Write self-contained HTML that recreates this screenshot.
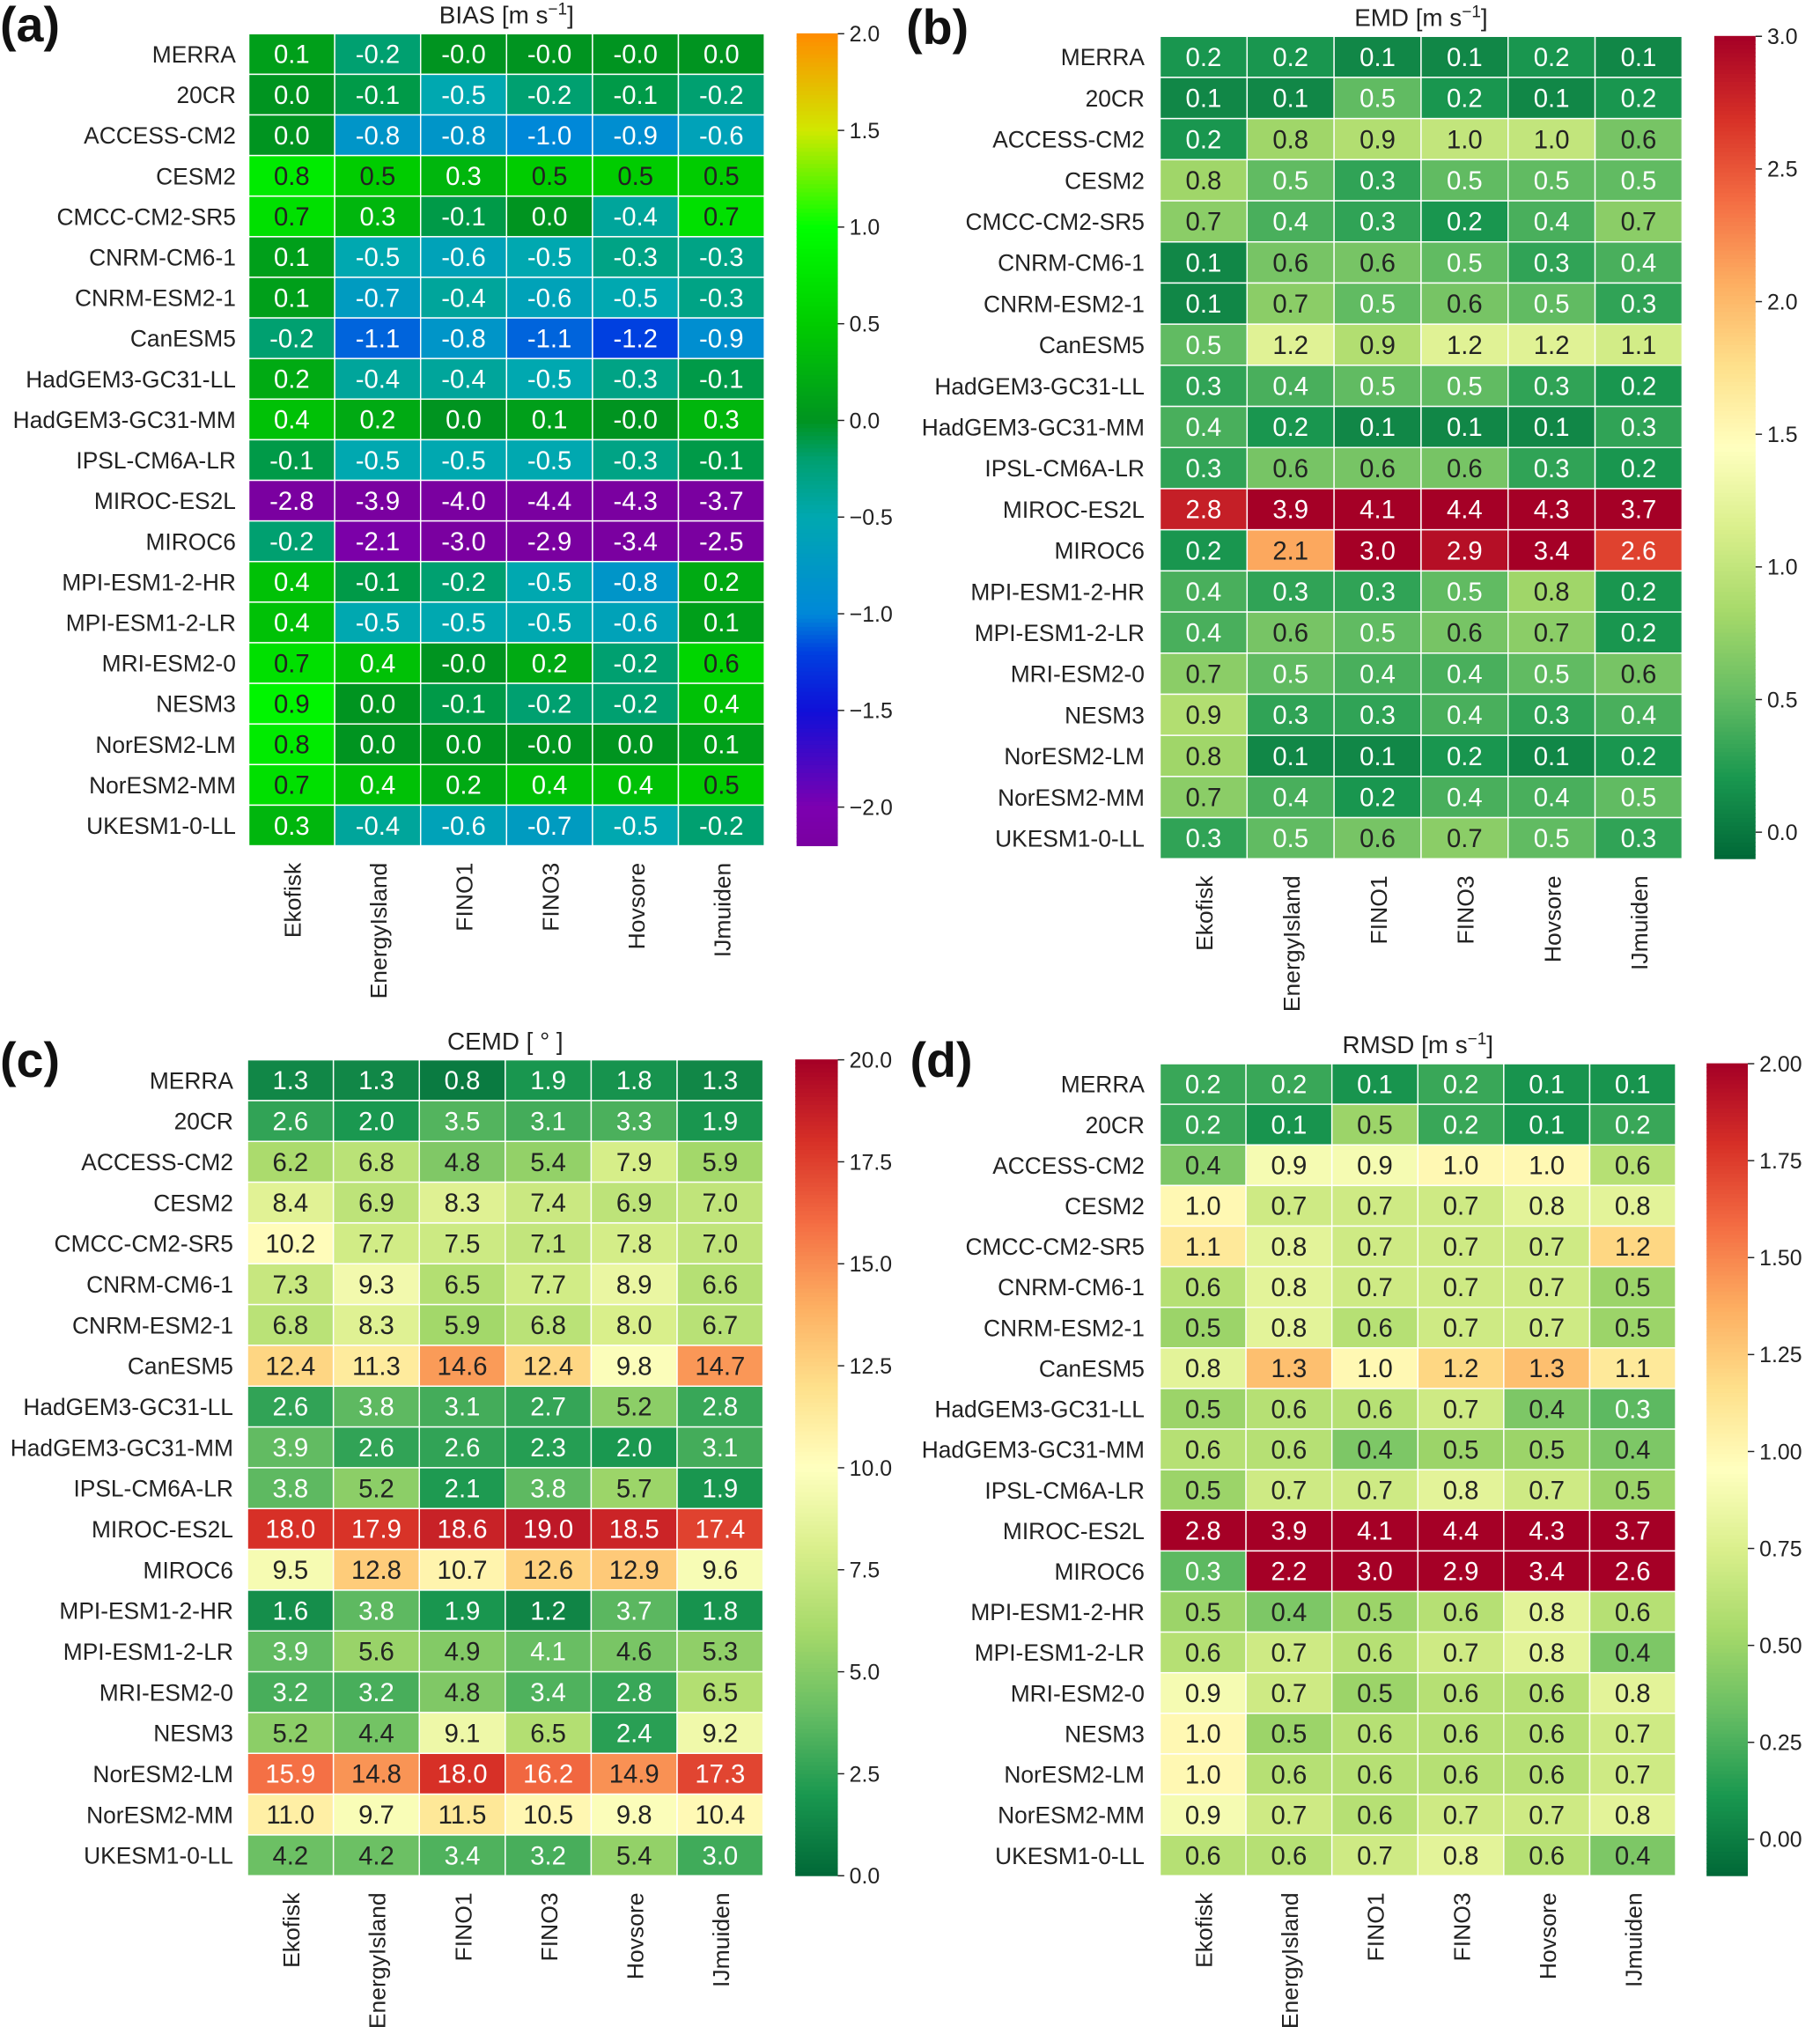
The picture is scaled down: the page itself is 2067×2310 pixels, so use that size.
<!DOCTYPE html>
<html><head><meta charset="utf-8"><style>
html,body{margin:0;padding:0;background:#fff;}
svg{display:block;font-family:"Liberation Sans","DejaVu Sans",sans-serif;}
</style></head><body>
<svg id="chart" width="2067" height="2310" viewBox="0 0 1412 1568" preserveAspectRatio="none" xmlns="http://www.w3.org/2000/svg"></svg>
<script>
const models = ["MERRA","20CR","ACCESS-CM2","CESM2","CMCC-CM2-SR5","CNRM-CM6-1","CNRM-ESM2-1","CanESM5","HadGEM3-GC31-LL","HadGEM3-GC31-MM","IPSL-CM6A-LR","MIROC-ES2L","MIROC6","MPI-ESM1-2-HR","MPI-ESM1-2-LR","MRI-ESM2-0","NESM3","NorESM2-LM","NorESM2-MM","UKESM1-0-LL"];
const sites = ["Ekofisk","EnergyIsland","FINO1","FINO3","Hovsore","IJmuiden"];
const biasValues = [
["0.1","-0.2","-0.0","-0.0","-0.0","0.0"],["0.0","-0.1","-0.5","-0.2","-0.1","-0.2"],["0.0","-0.8","-0.8","-1.0","-0.9","-0.6"],["0.8","0.5","0.3","0.5","0.5","0.5"],["0.7","0.3","-0.1","0.0","-0.4","0.7"],["0.1","-0.5","-0.6","-0.5","-0.3","-0.3"],["0.1","-0.7","-0.4","-0.6","-0.5","-0.3"],["-0.2","-1.1","-0.8","-1.1","-1.2","-0.9"],["0.2","-0.4","-0.4","-0.5","-0.3","-0.1"],["0.4","0.2","0.0","0.1","-0.0","0.3"],["-0.1","-0.5","-0.5","-0.5","-0.3","-0.1"],["-2.8","-3.9","-4.0","-4.4","-4.3","-3.7"],["-0.2","-2.1","-3.0","-2.9","-3.4","-2.5"],["0.4","-0.1","-0.2","-0.5","-0.8","0.2"],["0.4","-0.5","-0.5","-0.5","-0.6","0.1"],["0.7","0.4","-0.0","0.2","-0.2","0.6"],["0.9","0.0","-0.1","-0.2","-0.2","0.4"],["0.8","0.0","0.0","-0.0","0.0","0.1"],["0.7","0.4","0.2","0.4","0.4","0.5"],["0.3","-0.4","-0.6","-0.7","-0.5","-0.2"]];
const emdValues = [
["0.2","0.2","0.1","0.1","0.2","0.1"],["0.1","0.1","0.5","0.2","0.1","0.2"],["0.2","0.8","0.9","1.0","1.0","0.6"],["0.8","0.5","0.3","0.5","0.5","0.5"],["0.7","0.4","0.3","0.2","0.4","0.7"],["0.1","0.6","0.6","0.5","0.3","0.4"],["0.1","0.7","0.5","0.6","0.5","0.3"],["0.5","1.2","0.9","1.2","1.2","1.1"],["0.3","0.4","0.5","0.5","0.3","0.2"],["0.4","0.2","0.1","0.1","0.1","0.3"],["0.3","0.6","0.6","0.6","0.3","0.2"],["2.8","3.9","4.1","4.4","4.3","3.7"],["0.2","2.1","3.0","2.9","3.4","2.6"],["0.4","0.3","0.3","0.5","0.8","0.2"],["0.4","0.6","0.5","0.6","0.7","0.2"],["0.7","0.5","0.4","0.4","0.5","0.6"],["0.9","0.3","0.3","0.4","0.3","0.4"],["0.8","0.1","0.1","0.2","0.1","0.2"],["0.7","0.4","0.2","0.4","0.4","0.5"],["0.3","0.5","0.6","0.7","0.5","0.3"]];
const cemdValues = [
["1.3","1.3","0.8","1.9","1.8","1.3"],["2.6","2.0","3.5","3.1","3.3","1.9"],["6.2","6.8","4.8","5.4","7.9","5.9"],["8.4","6.9","8.3","7.4","6.9","7.0"],["10.2","7.7","7.5","7.1","7.8","7.0"],["7.3","9.3","6.5","7.7","8.9","6.6"],["6.8","8.3","5.9","6.8","8.0","6.7"],["12.4","11.3","14.6","12.4","9.8","14.7"],["2.6","3.8","3.1","2.7","5.2","2.8"],["3.9","2.6","2.6","2.3","2.0","3.1"],["3.8","5.2","2.1","3.8","5.7","1.9"],["18.0","17.9","18.6","19.0","18.5","17.4"],["9.5","12.8","10.7","12.6","12.9","9.6"],["1.6","3.8","1.9","1.2","3.7","1.8"],["3.9","5.6","4.9","4.1","4.6","5.3"],["3.2","3.2","4.8","3.4","2.8","6.5"],["5.2","4.4","9.1","6.5","2.4","9.2"],["15.9","14.8","18.0","16.2","14.9","17.3"],["11.0","9.7","11.5","10.5","9.8","10.4"],["4.2","4.2","3.4","3.2","5.4","3.0"]];
const rmsdValues = [
["0.2","0.2","0.1","0.2","0.1","0.1"],["0.2","0.1","0.5","0.2","0.1","0.2"],["0.4","0.9","0.9","1.0","1.0","0.6"],["1.0","0.7","0.7","0.7","0.8","0.8"],["1.1","0.8","0.7","0.7","0.7","1.2"],["0.6","0.8","0.7","0.7","0.7","0.5"],["0.5","0.8","0.6","0.7","0.7","0.5"],["0.8","1.3","1.0","1.2","1.3","1.1"],["0.5","0.6","0.6","0.7","0.4","0.3"],["0.6","0.6","0.4","0.5","0.5","0.4"],["0.5","0.7","0.7","0.8","0.7","0.5"],["2.8","3.9","4.1","4.4","4.3","3.7"],["0.3","2.2","3.0","2.9","3.4","2.6"],["0.5","0.4","0.5","0.6","0.8","0.6"],["0.6","0.7","0.6","0.7","0.8","0.4"],["0.9","0.7","0.5","0.6","0.6","0.8"],["1.0","0.5","0.6","0.6","0.6","0.7"],["1.0","0.6","0.6","0.6","0.6","0.7"],["0.9","0.7","0.6","0.7","0.7","0.8"],["0.6","0.6","0.7","0.8","0.6","0.4"]];
const biasTicks = ["2.0","1.5","1.0","0.5","0.0","\u22120.5","\u22121.0","\u22121.5","\u22122.0"];
const emdTicks = ["3.0","2.5","2.0","1.5","1.0","0.5","0.0"];
const cemdTicks = ["20.0","17.5","15.0","12.5","10.0","7.5","5.0","2.5","0.0"];
const rmsdTicks = ["2.00","1.75","1.50","1.25","1.00","0.75","0.50","0.25","0.00"];

const NS="http://www.w3.org/2000/svg";
const svg=document.getElementById('chart');
function mk(tag,attrs,parent){const e=document.createElementNS(NS,tag);for(const k in attrs)e.setAttribute(k,attrs[k]);(parent||svg).appendChild(e);return e;}
function hex(h){return [parseInt(h.slice(1,3),16),parseInt(h.slice(3,5),16),parseInt(h.slice(5,7),16)];}
function interp(stops,t){t=Math.max(0,Math.min(1,t));for(let i=1;i<stops.length;i++){if(t<=stops[i][0]){const a=stops[i-1],b=stops[i];const f=(t-a[0])/(b[0]-a[0]||1);const c1=hex(a[1]),c2=hex(b[1]);return c1.map((v,j)=>Math.round(v+(c2[j]-v)*f));}}return hex(stops[stops.length-1][1]);}
function relLum(c){const l=c.map(v=>{v/=255;return v<=0.03928?v/12.92:Math.pow((v+0.055)/1.055,2.4);});return 0.2126*l[0]+0.7152*l[1]+0.0722*l[2];}
const RdYlGn_r=[[0,"#006837"],[0.1,"#1a9850"],[0.2,"#66bd63"],[0.3,"#a6d96a"],[0.4,"#d9ef8b"],[0.5,"#ffffbf"],[0.6,"#fee08b"],[0.7,"#fdae61"],[0.8,"#f46d43"],[0.9,"#d73027"],[1,"#a50026"]];
const biasStopsV=[[-2.2,"#7a00a0"],[-2.0,"#7c00b0"],[-1.5,"#1010d8"],[-1.2,"#0040e0"],[-1.0,"#0088d8"],[-0.5,"#00a8b0"],[-0.2,"#00a070"],[0,"#009420"],[0.5,"#00cc00"],[1.0,"#00ff00"],[1.5,"#d0e800"],[2.0,"#ff8c00"]];
const biasStops=biasStopsV.map(s=>[(s[0]+2.2)/4.2,s[1]]);

const panels=[
 {id:"a",label:"(a)",lx:0,ly:32,title:"BIAS [m s",sup:"\u22121",data:biasValues,x0:193,x1:593,y0:26,y1:652,cbx:618,cbw:32,vmin:-2.2,vmax:2.0,stops:biasStops,ticks:biasTicks,tickTop:2.0,tickStep:0.5,labX:183},
 {id:"b",label:"(b)",lx:703,ly:34,title:"EMD [m s",sup:"\u22121",data:emdValues,x0:900,x1:1305,y0:28,y1:662,cbx:1330,cbw:32,vmin:-0.1,vmax:3.0,stops:RdYlGn_r,ticks:emdTicks,tickTop:3.0,tickStep:0.5,labX:888},
 {id:"c",label:"(c)",lx:0,ly:830,title:"CEMD [ \u00b0 ]",sup:"",data:cemdValues,x0:192,x1:592,y0:817,y1:1446,cbx:617,cbw:33,vmin:0,vmax:20,stops:RdYlGn_r,ticks:cemdTicks,tickTop:20,tickStep:2.5,labX:181},
 {id:"d",label:"(d)",lx:706,ly:830,title:"RMSD [m s",sup:"\u22121",data:rmsdValues,x0:900,x1:1300,y0:820,y1:1446,cbx:1324,cbw:32,vmin:-0.094,vmax:2.0,stops:RdYlGn_r,ticks:rmsdTicks,tickTop:2.0,tickStep:0.25,labX:888}
];

panels.forEach(p=>{
 const g=mk('g',{});
 
 
 const cw=(p.x1-p.x0)/sites.length, rh=(p.y1-p.y0)/models.length;
 const xs=i=>p.x0+i*cw, ys=j=>p.y0+j*rh;
 const color=v=>interp(p.stops,(v-p.vmin)/(p.vmax-p.vmin));
 const pl=mk('text',{x:p.lx,y:p.ly,'font-size':38,'font-weight':'bold',fill:'#111'},g);
 pl.textContent=p.label;
 
 
 const tt=mk('text',{x:(p.x0+p.x1)/2,y:p.y0-8,'font-size':19,'text-anchor':'middle',fill:'#222'},g);
 
 
 tt.appendChild(document.createTextNode(p.title));
 if(p.sup){const s=mk('tspan',{'baseline-shift':'super','font-size':13},tt);s.textContent=p.sup;const s2=mk('tspan',{'baseline-shift':'0'},tt);s2.textContent=']';}
 p.data.forEach((row,j)=>{
  row.forEach((str,i)=>{
   const v=parseFloat(str);const c=color(v);
   const r=mk('rect',{x:xs(i),y:ys(j),width:cw,height:rh,fill:`rgb(${c})`,stroke:'#fff','stroke-width':1},g);
   
   
   const t=mk('text',{x:xs(i)+cw/2,y:ys(j)+rh/2+7,'font-size':20,'text-anchor':'middle',fill:relLum(c)>0.408?'#222':'#fff'},g);
   t.textContent=str;
   
   
  });
  const rl=mk('text',{x:p.labX,y:ys(j)+rh/2+6.5,'font-size':18,'text-anchor':'end',fill:'#222'},g);
  rl.textContent=models[j];
  
  
 });
 sites.forEach((s,i)=>{
  const cx=xs(i)+cw/2+7, cy=p.y1+13;
  const t=mk('text',{x:cx,y:cy,'font-size':18,'text-anchor':'end',fill:'#222',transform:`rotate(-90 ${cx} ${cy})`},g);
  t.textContent=s;
  
  
 });
 const cb=mk('g',{},g);
 
 
 const vy=v=>p.y1-(v-p.vmin)/(p.vmax-p.vmin)*(p.y1-p.y0);
 const N=200;
 for(let k=0;k<N;k++){
  const v0=p.vmin+(p.vmax-p.vmin)*k/N, v1=p.vmin+(p.vmax-p.vmin)*(k+1)/N;
  const c=color((v0+v1)/2);
  mk('rect',{x:p.cbx,y:vy(v1)-0.3,width:p.cbw,height:vy(v0)-vy(v1)+0.6,fill:`rgb(${c})`},cb);
 }
 p.ticks.forEach((lab,k)=>{
  const v=p.tickTop-k*p.tickStep;const y=vy(v);
  mk('line',{x1:p.cbx+p.cbw,x2:p.cbx+p.cbw+5,y1:y,y2:y,stroke:'#222','stroke-width':1},cb);
  const t=mk('text',{x:p.cbx+p.cbw+9,y:y+6,'font-size':17,fill:'#222'},cb);
  t.textContent=lab;
  
  
 });
});
</script>
</body></html>
